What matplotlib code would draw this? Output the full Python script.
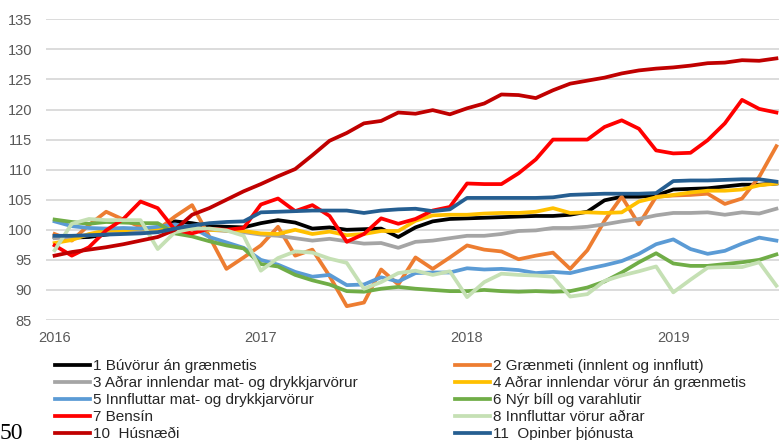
import matplotlib
matplotlib.use("Agg")
import matplotlib.pyplot as plt

plt.rcParams['font.family'] = ['Liberation Sans', 'DejaVu Sans']

# monthly index values, Jan 2016 - Jul 2019
months = list(range(43))
year_ticks = [0, 12, 24, 36]
year_labels = ['2016', '2017', '2018', '2019']

buvorur = [98.8, 98.7, 98.8, 99.2, 99.6, 99.9, 100.2, 101.4, 101.1, 100.6, 100.5, 100.4, 101.1, 101.6, 101.2,
           100.2, 100.4, 100.0, 100.1, 100.2, 98.8, 100.4, 101.4, 101.8, 101.9, 102.0, 102.1, 102.2, 102.3, 102.3,
           102.5, 103.0, 104.9, 105.5, 105.5, 105.7, 106.7, 106.8, 106.9, 107.2, 107.5, 107.5, 107.7]
graenmeti = [99.3, 98.2, 100.8, 103.0, 101.7, 100.5, 100.0, 102.2, 104.1, 98.9, 93.5, 95.4, 97.4, 100.5, 95.7,
             96.7, 92.3, 87.3, 87.9, 93.4, 90.9, 95.4, 93.5, 95.4, 97.4, 96.7, 96.4, 95.1, 95.7, 96.2,
             93.5, 96.6, 101.5, 105.5, 100.9, 105.5, 105.7, 105.8, 106.0, 104.3, 105.2, 108.8, 113.9]
adrar_mat = [98.6, 98.8, 99.1, 99.4, 99.6, 99.8, 100.0, 100.2, 100.1, 100.0, 99.8, 99.6, 99.2, 99.0, 98.6,
             98.2, 98.5, 98.1, 97.7, 97.8, 97.0, 98.0, 98.2, 98.6, 99.0, 99.0, 99.3, 99.8, 99.9, 100.3,
             100.3, 100.5, 100.9, 101.4, 101.8, 102.4, 102.8, 102.8, 102.9, 102.5, 102.9, 102.7, 103.5]
adrar_vorur = [97.8, 98.3, 99.3, 99.9, 99.9, 100.2, 100.2, 100.3, 100.2, 100.0, 99.9, 99.8, 99.4, 99.3, 100.0,
               99.3, 99.7, 99.1, 99.3, 99.8, 99.8, 101.5, 102.4, 102.5, 102.5, 102.7, 102.8, 102.8, 103.0, 103.6,
               102.8, 102.9, 102.8, 102.9, 104.7, 105.4, 105.8, 106.2, 106.5, 106.5, 106.7, 107.4, 107.7]
innfl_mat = [101.4, 100.6, 100.3, 100.2, 100.3, 100.2, 100.5, 100.9, 100.4, 98.8, 97.9, 97.0, 95.0, 94.2, 93.0,
             92.2, 92.5, 90.8, 90.9, 92.1, 91.4, 92.8, 92.9, 92.9, 93.6, 93.4, 93.5, 93.3, 92.8, 93.0,
             92.8, 93.5, 94.1, 94.8, 96.0, 97.6, 98.4, 96.8, 96.0, 96.5, 97.7, 98.7, 98.2]
nyr_bill = [101.7, 101.3, 101.0, 101.3, 101.2, 101.1, 101.1, 99.4, 98.9, 98.1, 97.4, 96.9, 94.3, 93.9, 92.5,
            91.6, 90.9, 89.8, 89.7, 90.2, 90.5, 90.2, 90.0, 89.8, 89.8, 90.0, 89.8, 89.7, 89.8, 89.7,
            89.8, 90.4, 91.4, 92.9, 94.6, 96.1, 94.4, 94.0, 94.0, 94.3, 94.6, 95.0, 95.9]
bensin = [97.4, 95.7, 97.1, 99.9, 101.8, 104.7, 103.6, 100.0, 99.4, 100.2, 100.0, 100.3, 104.2, 105.2, 103.1,
          104.1, 102.3, 98.0, 99.3, 101.9, 101.0, 101.8, 103.2, 103.8, 107.7, 107.6, 107.6, 109.4, 111.7, 115.0,
          115.0, 115.0, 117.1, 118.2, 116.8, 113.2, 112.7, 112.8, 114.9, 117.7, 121.6, 120.1, 119.5]
innfl_adrar = [96.6, 101.0, 101.8, 101.6, 101.6, 101.6, 96.8, 99.6, 100.2, 100.2, 99.9, 99.0, 93.2, 95.3, 96.4,
               96.2, 95.2, 94.5, 90.2, 91.3, 92.8, 93.2, 92.5, 93.1, 88.8, 91.3, 92.7, 92.5, 92.4, 92.2,
               88.9, 89.3, 91.5, 92.4, 93.1, 93.9, 89.6, 91.7, 93.7, 93.8, 93.8, 94.6, 90.7]
husnaedi = [95.7, 96.3, 96.7, 97.1, 97.6, 98.2, 98.8, 100.0, 102.5, 103.6, 105.0, 106.4, 107.6, 108.9, 110.1,
            112.4, 114.8, 116.1, 117.7, 118.1, 119.5, 119.3, 119.9, 119.2, 120.2, 121.0, 122.5, 122.4, 121.9, 123.2,
            124.3, 124.8, 125.3, 126.0, 126.5, 126.8, 127.0, 127.3, 127.7, 127.8, 128.2, 128.1, 128.5]
opinber = [99.0, 99.0, 99.1, 99.2, 99.3, 99.4, 99.6, 100.2, 100.7, 101.1, 101.3, 101.4, 102.9, 103.0, 103.1,
           103.2, 103.2, 103.2, 102.8, 103.2, 103.4, 103.5, 103.1, 103.4, 105.3, 105.3, 105.3, 105.3, 105.3, 105.4,
           105.8, 105.9, 106.0, 106.0, 106.0, 106.1, 108.1, 108.2, 108.2, 108.3, 108.4, 108.4, 108.0]

series = [
    ('1 Búvörur án grænmetis', buvorur, '#000000'),
    ('2 Grænmeti (innlent og innflutt)', graenmeti, '#ED7D31'),
    ('3 Aðrar innlendar mat- og drykkjarvörur', adrar_mat, '#A5A5A5'),
    ('4 Aðrar innlendar vörur án grænmetis', adrar_vorur, '#FFC000'),
    ('5 Innfluttar mat- og drykkjarvörur', innfl_mat, '#5B9BD5'),
    ('6 Nýr bíll og varahlutir', nyr_bill, '#70AD47'),
    ('7 Bensín', bensin, '#FF0000'),
    ('8 Innfluttar vörur aðrar', innfl_adrar, '#C5E0B4'),
    ('10  Húsnæði', husnaedi, '#C00000'),
    ('11  Opinber þjónusta', opinber, '#255E91'),
]

fig = plt.figure(figsize=(7.79, 4.40), dpi=100)
ax = fig.add_axes([46 / 779, 120 / 440, 739 / 779, 300.7 / 440])

lines = []
for label, vals, col in series:
    ln, = ax.plot(months, vals, color=col, lw=2.7, label=label)
    lines.append(ln)

ax.set_xlim(-0.5, 42.5)
ax.set_ylim(85, 135)
ax.set_yticks(range(85, 136, 5))
ax.set_xticks(year_ticks)
ax.set_xticklabels(year_labels)
ax.grid(axis='y', color='#D9D9D9', lw=1.3)
ax.set_axisbelow(True)
for s in ax.spines.values():
    s.set_visible(False)
ax.tick_params(length=0, labelsize=10.5, colors='#595959')
ax.tick_params(axis='y', pad=10)
ax.tick_params(axis='x', pad=8)

# legend in two columns, row-wise order
leg_kw = dict(loc='upper left', frameon=False, fontsize=11, handlelength=2.3, handletextpad=0.2,
              labelspacing=0.2, borderpad=0, borderaxespad=0, labelcolor='#262626')
left = lines[0::2]
right = lines[1::2]
fig.legend(left, [l.get_label() for l in left], bbox_to_anchor=(55 / 779, 1 - 359 / 440), **leg_kw)
fig.legend(right, [l.get_label() for l in right], bbox_to_anchor=(455 / 779, 1 - 359 / 440), **leg_kw)

# cut-off text from the page at bottom left
fig.text(0.0, 0.003, '50', fontsize=17, family='Liberation Serif', va='baseline', ha='left')

fig.savefig('out.png', dpi=100)
